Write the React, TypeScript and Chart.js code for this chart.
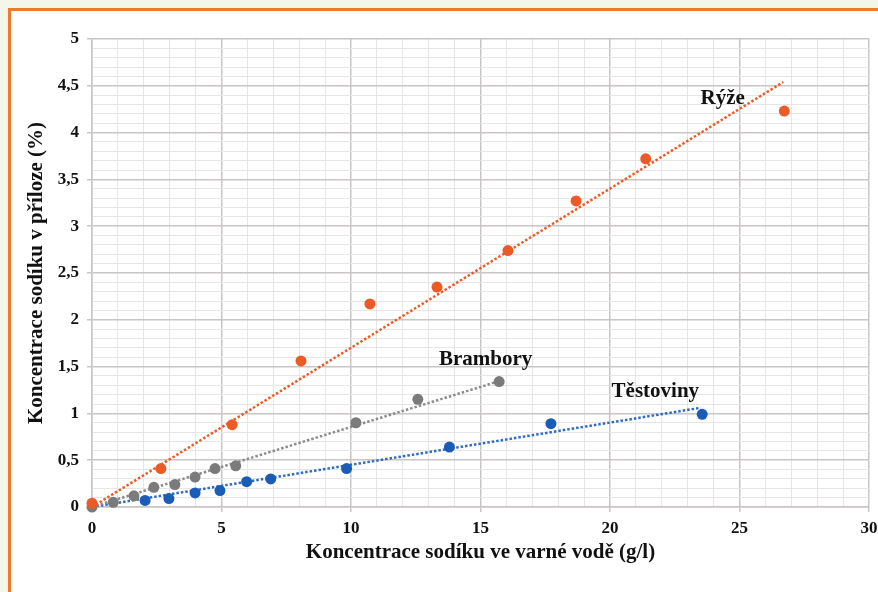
import React, { useEffect, useRef } from 'react';
import { Chart, registerables } from 'chart.js';

Chart.register(...registerables);

// Axis ranges and tick steps
const X_MIN = 0;
const X_MAX = 30;
const Y_MIN = 0;
const Y_MAX = 5;
const X_MINOR_STEP = 1;
const Y_MINOR_STEP = 0.1;

// Rýže (rice)
const rizeX = [0, 2.66, 5.41, 8.07, 10.73, 13.32, 16.06, 18.69, 21.38, 26.73];
const rizeY = [0.04, 0.41, 0.88, 1.56, 2.17, 2.35, 2.74, 3.27, 3.72, 4.23];
// Brambory (potatoes)
const bramboryX = [0, 0.82, 1.62, 2.39, 3.2, 3.98, 4.75, 5.55, 10.19, 12.58, 15.72];
const bramboryY = [0, 0.05, 0.12, 0.21, 0.24, 0.32, 0.41, 0.44, 0.9, 1.15, 1.34];
// Těstoviny (pasta)
const testovinyX = [2.05, 2.97, 3.98, 4.94, 5.97, 6.9, 9.83, 13.8, 17.72, 23.56];
const testovinyY = [0.07, 0.09, 0.15, 0.175, 0.27, 0.3, 0.41, 0.64, 0.89, 0.99];

// Trendline endpoints
const rizeTrendX = [0, 26.69];
const rizeTrendY = [0, 4.54];
const bramboryTrendX = [0, 15.55];
const bramboryTrendY = [0, 1.33];
const testovinyTrendX = [0, 23.5];
const testovinyTrendY = [0, 1.06];

// In-plot labels
const labelNames = ['Rýže', 'Brambory', 'Těstoviny'];
const labelX = [24.35, 15.2, 21.75];
const labelY = [4.36, 1.58, 1.23];

const xTitle = 'Koncentrace sodíku ve varné vodě (g/l)';
const yTitle = 'Koncentrace sodíku v příloze (%)';

const ORANGE = '#ec5b26';
const GRAY = '#7b7b7b';
const BLUE = '#1b5db6';
const MAJOR = '#c9c5c4';
const MINOR = '#e6e6e6';
const FONT = "'Liberation Serif', 'Times New Roman', serif";

const toPts = (xs: number[], ys: number[]) => xs.map((x, i) => ({ x, y: ys[i] }));

const labelPlugin = {
  id: 'seriesLabels',
  afterDatasetsDraw(chart: any) {
    const { ctx, scales } = chart;
    ctx.save();
    ctx.fillStyle = '#111';
    ctx.font = `bold 21px ${FONT}`;
    ctx.textAlign = 'center';
    ctx.textBaseline = 'middle';
    labelNames.forEach((t, i) => {
      ctx.fillText(t, scales.x.getPixelForValue(labelX[i]), scales.y.getPixelForValue(labelY[i]));
    });
    ctx.restore();
  },
};

const isMajorX = (v: number) => Math.round(v) % 5 === 0;
const isMajorY = (v: number) => Math.round(v * 10) % 5 === 0;

export default function App() {
  const ref = useRef<HTMLCanvasElement | null>(null);

  useEffect(() => {
    if (!ref.current) return;
    const scatter = (label: string, xs: number[], ys: number[], color: string) => ({
      type: 'scatter' as const,
      label,
      data: toPts(xs, ys),
      backgroundColor: color,
      borderColor: color,
      pointRadius: 5.5,
      pointBorderWidth: 0,
      showLine: false,
      clip: false as any,
      order: 0,
    });
    const trend = (label: string, xs: number[], ys: number[], color: string) => ({
      type: 'scatter' as const,
      label,
      data: toPts(xs, ys),
      borderColor: color,
      backgroundColor: color,
      borderWidth: 2.5,
      borderDash: [2.5, 2],
      pointRadius: 0,
      showLine: true,
      order: 1,
    });

    const chart = new Chart(ref.current, {
      type: 'scatter',
      data: {
        datasets: [
          trend('Rýže trend', rizeTrendX, rizeTrendY, ORANGE),
          trend('Brambory trend', bramboryTrendX, bramboryTrendY, '#8c8c8c'),
          trend('Těstoviny trend', testovinyTrendX, testovinyTrendY, '#2f6cc0'),
          scatter('Rýže', rizeX, rizeY, ORANGE),
          scatter('Těstoviny', testovinyX, testovinyY, BLUE),
          scatter('Brambory', bramboryX, bramboryY, GRAY),
        ] as any,
      },
      options: {
        animation: false,
        responsive: false,
        maintainAspectRatio: false,
        layout: { padding: { top: 39, right: 9, bottom: 0, left: 0 } },
        plugins: { legend: { display: false }, tooltip: { enabled: false } },
        scales: {
          x: {
            type: 'linear',
            min: X_MIN,
            max: X_MAX,
            afterFit: (s: any) => {
              s.height = 85;
              s.paddingRight = 0;
              s.paddingLeft = 0;
            },
            border: { color: MAJOR, width: 1.5 },
            grid: {
              color: (c: any) => (isMajorX(c.tick.value) ? MAJOR : MINOR),
              lineWidth: (c: any) => (isMajorX(c.tick.value) ? 1.5 : 1),
              tickColor: (c: any) => (isMajorX(c.tick.value) ? MAJOR : 'rgba(0,0,0,0)'),
              tickLength: 5,
            },
            ticks: {
              stepSize: X_MINOR_STEP,
              autoSkip: false,
              maxRotation: 0,
              padding: 6,
              color: '#111',
              font: { family: FONT, size: 17, weight: 'bold' },
              callback: (v: any) => (isMajorX(Number(v)) ? String(Math.round(Number(v))) : ''),
            },
            title: {
              display: true,
              text: xTitle,
              color: '#111',
              font: { family: FONT, size: 21, weight: 'bold' },
              padding: { top: 0, bottom: 27 },
            },
          },
          y: {
            type: 'linear',
            min: Y_MIN,
            max: Y_MAX,
            afterFit: (s: any) => { s.width = 92; },
            border: { color: MAJOR, width: 1.5 },
            grid: {
              color: (c: any) => (isMajorY(c.tick.value) ? MAJOR : MINOR),
              lineWidth: (c: any) => (isMajorY(c.tick.value) ? 1.5 : 1),
              tickColor: (c: any) => (isMajorY(c.tick.value) ? MAJOR : 'rgba(0,0,0,0)'),
              tickLength: 5,
            },
            ticks: {
              stepSize: Y_MINOR_STEP,
              autoSkip: false,
              padding: 8,
              color: '#111',
              font: { family: FONT, size: 17, weight: 'bold' },
              callback: (v: any) => {
                const n = Math.round(Number(v) * 10) / 10;
                return isMajorY(n) ? String(n).replace('.', ',') : '';
              },
            },
            title: {
              display: true,
              text: yTitle,
              color: '#111',
              font: { family: FONT, size: 21, weight: 'bold' },
              padding: { top: 24, bottom: 0 },
            },
          },
        },
      },
      plugins: [labelPlugin],
    });
    return () => chart.destroy();
  }, []);

  return (
    <div style={{ position: 'fixed', left: 0, top: 0, width: 878, height: 592, background: '#f3f6e9', overflow: 'hidden' }}>
      <div
        style={{
          position: 'absolute',
          left: 8,
          top: 8,
          width: 870,
          height: 584,
          background: '#ffffff',
          borderTop: '3px solid #f07a2c',
          borderLeft: '3px solid #f07a2c',
          boxSizing: 'border-box',
        }}
      />
      <canvas ref={ref} width={878} height={592} style={{ position: 'absolute', left: 0, top: 0, width: 878, height: 592 }} />
    </div>
  );
}
